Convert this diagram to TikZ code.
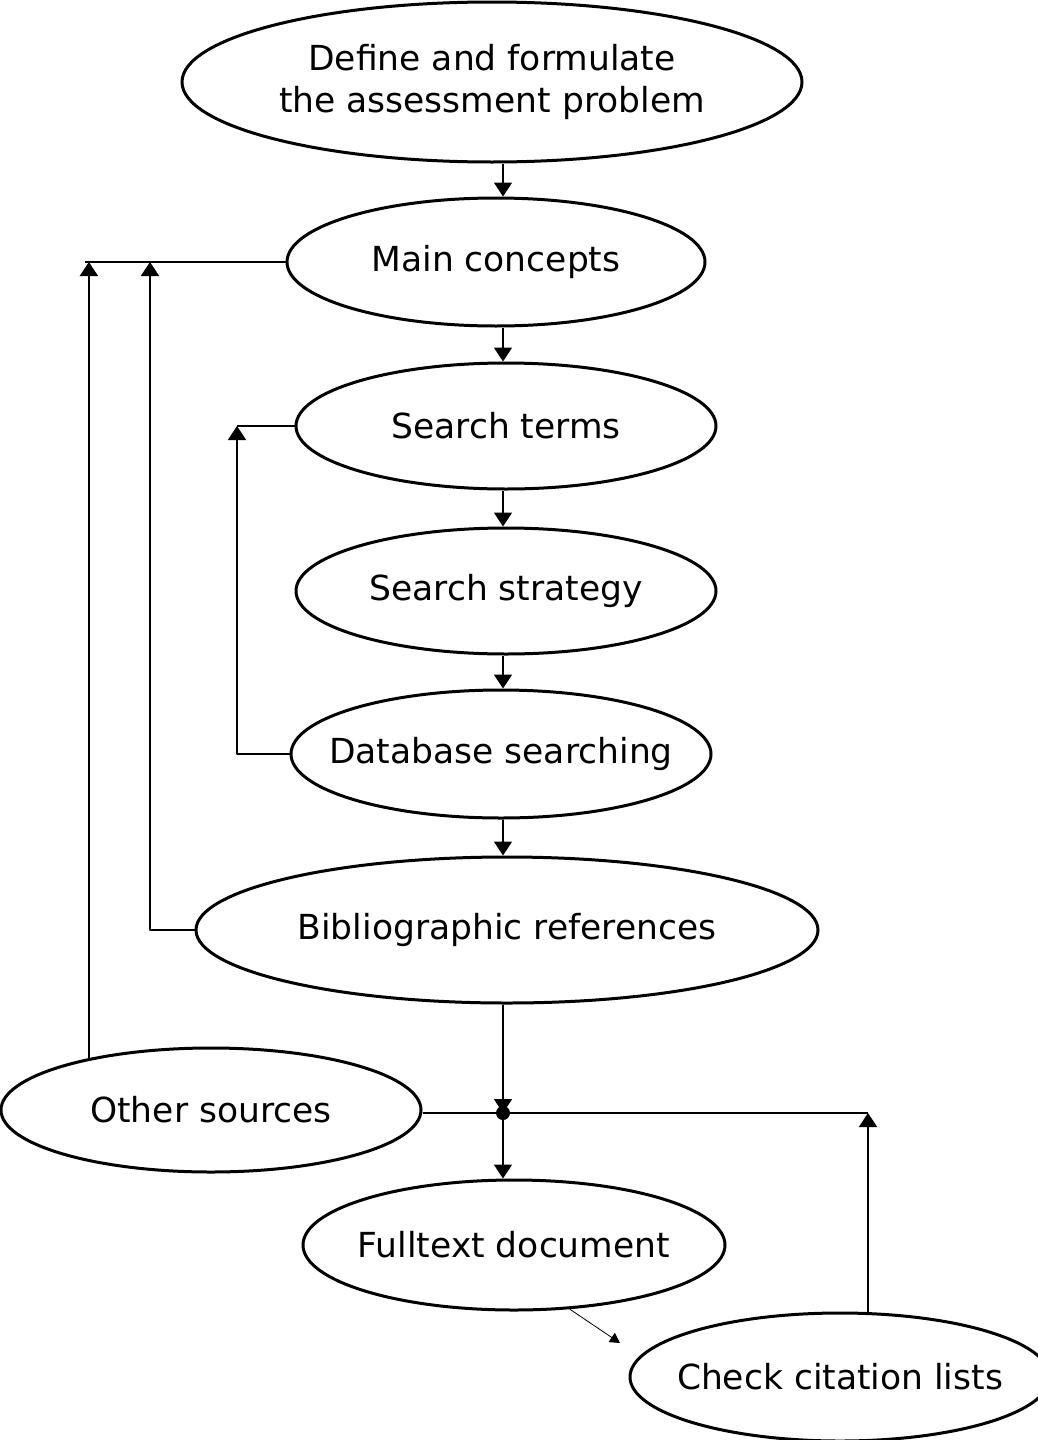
\documentclass[tikz,border=0pt]{standalone}
\usepackage{fontspec}
\setmainfont{DejaVu Sans}
\usetikzlibrary{shapes.geometric,arrows.meta}
\tikzset{
	stage/.style={ellipse, draw, line width=3pt, inner ysep=0pt, inner xsep=-27pt,
		font=\fontsize{34.5}{42}\selectfont},
}
\begin{document}
\begin{tikzpicture}[x=1pt, y=-1pt, line join=round, line width=1.8pt,
		>={Triangle[length=14pt,width=18pt]}]
		\useasboundingbox (0,0) rectangle (1037,1440);
		\path
		(503,0) coordinate (spine)
		(92,0) coordinate (colA)
		(150,0) coordinate (colB)
		(237,0) coordinate (colC)
		(868,0) coordinate (colR)
		(503,1113) coordinate (junc)
		(620,1343) coordinate (citeIn);
		\node[stage, minimum width=620pt, minimum height=160pt, align=center] (define) at (492,82) {Define and formulate\\the assessment problem};
		\node[stage, minimum width=418pt, minimum height=128pt] (main) at (496,262) {Main concepts};
		\node[stage, minimum width=420pt, minimum height=126pt] (terms) at (506,426) {Search terms};
		\node[stage, minimum width=420pt, minimum height=126pt] (strategy) at (506,591) {Search strategy};
		\node[stage, minimum width=420pt, minimum height=128pt] (dbsearch) at (501,754) {Database searching};
		\node[stage, minimum width=622pt, minimum height=146pt] (biblio) at (507,930) {Bibliographic references};
		\node[stage, minimum width=420pt, minimum height=124pt] (other) at (211,1110) {Other sources};
		\node[stage, minimum width=422pt, minimum height=130pt] (fulltext) at (514,1245) {Fulltext document};
		\node[stage, minimum width=420pt, minimum height=128pt] (check) at (840,1377) {Check citation lists};
		% main column
		\foreach \a/\b in {define/main, main/terms, terms/strategy, strategy/dbsearch, dbsearch/biblio}
		\draw[->] (\a.south -| spine) -- (\b.north -| spine);
		% feedback on the left
		\draw (main.west) -- ([xshift=-7pt]main.west -| colA);
		\draw[->] (other.157) -- (other.157 |- main.west);
		\draw[->] (biblio.west) -| (colB |- main.west);
		\draw (terms.west) -- (terms.west -| colC);
		\draw[->] (dbsearch.west) -| (colC |- terms.west);
		% junction
		\draw[->] (biblio.south -| spine) -- (junc);
		\draw (other.east |- junc) -- (junc -| colR);
		\draw[->] (check.north -| colR) -- (colR |- junc);
		\fill (junc) circle (7pt);
		\draw[->] (junc) -- (fulltext.north -| spine);
		\draw[->, line width=0.8pt, >={Triangle[length=10pt,width=11pt]}] (fulltext.-49) -- (citeIn);
	\end{tikzpicture}
\end{document}
